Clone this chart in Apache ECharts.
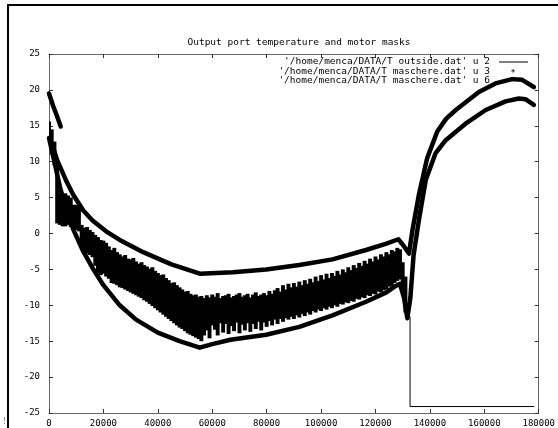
<!DOCTYPE html>
<html><head><meta charset="utf-8">
<script src="https://cdn.jsdelivr.net/npm/echarts@6/dist/echarts.min.js"></script>
<style>html,body{margin:0;padding:0;background:#fff}#c{width:558px;height:428px}</style>
</head><body><div id="c"></div>
<script>
// ---- data ----
const titleText = 'Output port temperature and motor masks';
const legendNames = ["'/home/menca/DATA/T outside.dat' u 2", "'/home/menca/DATA/T maschere.dat' u 3", "'/home/menca/DATA/T maschere.dat' u 6"];
const xTicks = [0, 20000, 40000, 60000, 80000, 100000, 120000, 140000, 160000, 180000];
const yTicks = [-25, -20, -15, -10, -5, 0, 5, 10, 15, 20, 25];

// outside.dat u 2 : dense noisy signal, given as max/min per 1000-unit bin
const noiseStart = 0;
const noiseStep = 1000;
const noiseHi = [
 15.6, 14.5, 12.8, 9.3, 5.6, 5.4, 5.6, 5.3, 5.0, 4.0,
 4.0, 3.8, 1.2, 0.8, 0.9, 0.5, 0.2, -0.2, -0.5, -0.9,
 -1.0, -1.3, -1.8, -2.3, -2.0, -2.6, -2.9, -3.2, -3.0, -3.5,
 -3.6, -3.4, -3.9, -4.2, -4.0, -4.4, -4.6, -4.9, -4.7, -5.2,
 -5.5, -5.8, -5.7, -6.2, -6.5, -6.9, -6.8, -7.2, -7.5, -7.8,
 -8.1, -8.0, -8.4, -8.6, -8.5, -8.8, -8.7, -9.0, -8.6, -8.9,
 -8.5, -8.8, -8.3, -9.0, -8.7, -8.6, -8.4, -8.9, -8.7, -8.5,
 -8.3, -8.8, -8.6, -8.4, -8.9, -8.5, -8.2, -8.7, -8.5, -8.3,
 -8.6, -8.0, -8.4, -7.9, -7.6, -8.1, -7.2, -7.8, -7.0, -7.5,
 -6.9, -7.4, -6.7, -7.2, -6.5, -7.0, -6.3, -6.8, -6.0, -6.6,
 -5.8, -6.4, -5.6, -6.2, -5.5, -5.9, -5.2, -5.7, -5.0, -5.4,
 -4.7, -5.1, -4.4, -4.8, -4.1, -4.5, -3.8, -4.2, -3.5, -3.9,
 -3.2, -3.6, -2.9, -3.2, -2.6, -2.9, -2.3, -2.5, -2.0, -2.2,
 -4.0, -6.0
];
const noiseLo = [
 12.5, 11, 9.5, 1.4, 1.2, 1.0, 1.0, 1.2, 0.9, 0.6,
 0.5, 0.3, -2.0, -2.5, -2.8, -3.0, -3.3, -4.5, -5.5, -5.8,
 -5.6, -6.0, -6.3, -6.9, -7.0, -7.2, -7.5, -7.6, -7.8, -8.0,
 -8.2, -8.4, -8.6, -8.8, -9.0, -9.3, -9.5, -9.8, -10.1, -10.4,
 -10.7, -11.0, -11.3, -11.6, -11.9, -12.2, -12.5, -12.8, -13.1, -13.3,
 -13.6, -13.9, -14.1, -14.3, -14.5, -14.7, -15.0, -14.2, -13.5, -14.6,
 -12.8, -13.4, -14.2, -12.5, -13.8, -12.6, -14.0, -12.9, -13.6, -12.4,
 -13.9, -12.7, -13.5, -12.5, -13.7, -12.6, -13.3, -12.3, -13.5, -12.4,
 -13.0, -12.2, -12.8, -12.0, -12.6, -11.9, -12.3, -11.8, -12.0, -11.6,
 -11.9, -11.4, -11.7, -11.2, -11.5, -11.0, -11.3, -10.8, -11.0, -10.6,
 -10.8, -10.4, -10.6, -10.2, -10.4, -10.0, -10.2, -9.8, -9.9, -9.6,
 -9.7, -9.4, -9.5, -9.1, -9.2, -8.9, -9.0, -8.6, -8.7, -8.4,
 -8.5, -8.1, -8.2, -7.9, -7.8, -7.4, -7.3, -6.9, -6.6, -6.4,
 -8.0, -11.0
];
// after the noisy part the sensor reading drops and stays flat
const outsideTailX = [131000, 132700, 132700, 178300];
const outsideTailY = [-11.0, -11.6, -24.1, -24.1];

// maschere.dat u 3 (null = gap in the data)
const u3X = [0, 1500, 3000, 4300, 4400, 1500, 3000, 4650, 6500, 8900, 12600, 16000, 21000, 26000, 34600, 45000, 55400, 67600, 79800, 92000, 104200, 116500, 124000, 128400, 130500, 132300, 133600, 136000, 139000, 142700, 146000, 149500, 158000, 164100, 170200, 173900, 178200];
const u3Y = [19.5, 17.8, 16.3, 14.9, null, 12.0, 10.2, 8.8, 7.2, 5.4, 3.2, 1.8, 0.3, -0.9, -2.6, -4.3, -5.6, -5.4, -5.0, -4.4, -3.6, -2.3, -1.4, -0.8, -1.8, -2.8, 0.5, 5.5, 10.5, 14.2, 16.0, 17.2, 19.7, 20.9, 21.5, 21.4, 20.4];

// maschere.dat u 6
const u6X = [0, 2000, 4000, 6000, 9000, 12600, 16000, 20000, 26000, 32000, 40000, 48000, 55400, 60000, 66700, 79800, 92000, 104200, 116500, 124000, 127000, 129000, 130500, 131700, 132800, 134000, 136000, 138500, 142100, 145800, 153100, 160500, 167800, 172700, 175100, 178200];
const u6Y = [13.3, 10, 6.5, 3.8, 0.5, -2.5, -4.8, -7.2, -10.0, -12.0, -13.8, -15.0, -15.9, -15.4, -14.8, -14.1, -13.0, -11.4, -9.5, -8.2, -7.4, -7.0, -9, -11.8, -9, -3, 2, 7.5, 11.2, 13.0, 15.3, 17.2, 18.4, 18.8, 18.7, 17.9];

// ---- build ----
const noiseBins = noiseHi.map((hi, i) => [noiseStart + i * noiseStep, hi, noiseLo[i]]);
const tailData = outsideTailX.map((x, i) => [x, outsideTailY[i]]);
const u3Data = u3X.map((x, i) => [x, u3Y[i] === null ? '-' : u3Y[i]]);
const u6Data = u6X.map((x, i) => [x, u6Y[i]]);

const FONT = 'DejaVu Sans Mono';
const axisCol = '#666';
function xAx(pos, show) {
  return {type: 'value', position: pos, min: xTicks[0], max: xTicks[xTicks.length - 1], interval: 20000,
    axisLine: {show: true, onZero: false, lineStyle: {color: axisCol, width: 1}},
    axisTick: {show: true, inside: true, length: 4, lineStyle: {color: '#333'}},
    splitLine: {show: false},
    axisLabel: {show: show, color: '#000', fontFamily: FONT, fontSize: 9, margin: 6,
      formatter: v => String(v)}};
}
function yAx(pos, show) {
  return {type: 'value', position: pos, min: yTicks[0], max: yTicks[yTicks.length - 1], interval: 5,
    axisLine: {show: true, onZero: false, lineStyle: {color: axisCol, width: 1}},
    axisTick: {show: true, inside: true, length: 4, lineStyle: {color: '#333'}},
    splitLine: {show: false},
    axisLabel: {show: show, color: '#000', fontFamily: FONT, fontSize: 9, margin: 9,
      formatter: v => String(v)}};
}

// each bin of the dense signal is painted as one solid vertical stroke from its min to its max
function renderNoise(params, api) {
  const x = api.value(0), hi = api.value(1), lo = api.value(2);
  const p1 = api.coord([x, hi]), p2 = api.coord([x, lo]);
  const w = api.size([noiseStep, 0])[0];
  return {type: 'rect',
    shape: {x: p1[0] - w / 2 - 0.6, y: p1[1], width: w + 1.2, height: Math.max(1, p2[1] - p1[1])},
    style: {fill: '#000', stroke: null}};
}

const chart = echarts.init(document.getElementById('c'), null, {renderer: 'canvas'});
const lx = 490, ly = 62, lg = 9.5;
chart.setOption({
  animation: false,
  backgroundColor: '#fff',
  title: {text: titleText, left: 294, top: 33, textAlign: 'center',
    textStyle: {fontFamily: FONT, fontSize: 9.5, fontWeight: 'normal', color: '#000'}},
  grid: {left: 49, right: 18, top: 54, bottom: 15},
  xAxis: [xAx('bottom', true), xAx('top', false)],
  yAxis: [yAx('left', true), yAx('right', false)],
  series: [
    {name: legendNames[0], type: 'custom', data: noiseBins, encode: {x: 0, y: [1, 2]},
      renderItem: renderNoise, clip: true},
    {name: legendNames[0], type: 'line', data: tailData, symbol: 'none',
      lineStyle: {color: '#000', width: 1}},
    {name: legendNames[1], type: 'line', data: u3Data, symbol: 'none', connectNulls: false,
      lineStyle: {color: '#000', width: 4.5, cap: 'round', join: 'round'}},
    {name: legendNames[2], type: 'line', data: u6Data, symbol: 'none',
      lineStyle: {color: '#000', width: 4.5, cap: 'round', join: 'round'}}
  ],
  graphic: [
    {type: 'rect', shape: {x: 7, y: 4, width: 551, height: 2}, style: {fill: '#000'}},
    {type: 'rect', shape: {x: 7, y: 4, width: 2, height: 424}, style: {fill: '#000'}},
    {type: 'text', x: 2, y: 418, style: {text: '!', font: '8px ' + FONT, fill: '#777'}},
    {type: 'text', x: lx, y: ly, style: {text: legendNames[0], font: '9.5px ' + FONT, fill: '#000', align: 'right', verticalAlign: 'middle'}, z: 10},
    {type: 'text', x: lx, y: ly + lg, style: {text: legendNames[1], font: '9.5px ' + FONT, fill: '#000', align: 'right', verticalAlign: 'middle'}, z: 10},
    {type: 'text', x: lx, y: ly + 2 * lg, style: {text: legendNames[2], font: '9.5px ' + FONT, fill: '#000', align: 'right', verticalAlign: 'middle'}, z: 10},
    {type: 'line', shape: {x1: 499, y1: ly, x2: 528, y2: ly}, style: {stroke: '#000', lineWidth: 1}, z: 10},
    {type: 'text', x: 513, y: ly + lg, style: {text: '+', font: 'bold 7px ' + FONT, fill: '#000', align: 'center', verticalAlign: 'middle'}, z: 10}
  ]
});
</script></body></html>
